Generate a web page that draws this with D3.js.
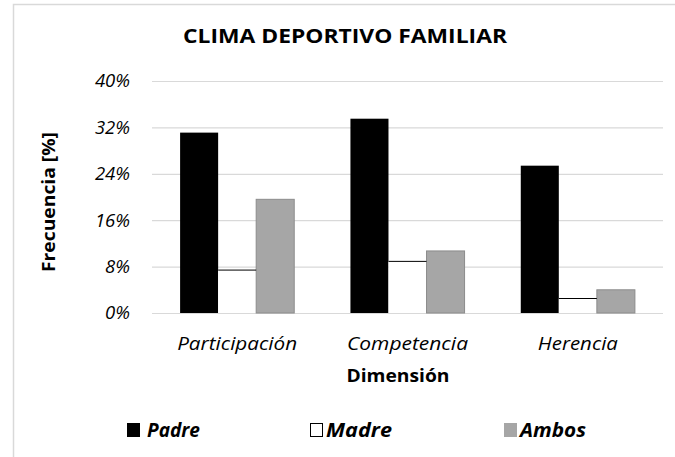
<!DOCTYPE html>
<html>
<head>
<meta charset="utf-8">
<script src="https://cdn.jsdelivr.net/npm/d3@7"></script>
<style>
  body { margin: 0; background: #fff; }
  svg { display: block; }
  text { font-family: 'Open Sans', 'Noto Sans', sans-serif; fill: #000; }
</style>
</head>
<body>
<div id="chart"></div>
<script>
const categories = ['Participación', 'Competencia', 'Herencia']
const series = ['Padre', 'Madre', 'Ambos']
const padre = [31.1, 33.5, 25.4]
const madre = [7.4, 8.9, 2.5]
const ambos = [19.6, 10.7, 4.0]
const yTicks = [0, 8, 16, 24, 32, 40]

const width = 675
const height = 457
const margin = { top: 81, left: 152, right: 12, bottom: 144 }
const innerW = width - margin.left - margin.right
const innerH = height - margin.top - margin.bottom

const fills = { Padre: '#000000', Madre: '#ffffff', Ambos: '#a6a6a6' }

// rows built from the arrays above
const rows = categories.map((c, i) => ({
  cat: c,
  values: [
    { key: 'Padre', v: padre[i] },
    { key: 'Madre', v: madre[i] },
    { key: 'Ambos', v: ambos[i] }
  ]
}))

const svg = d3
  .select('#chart')
  .append('svg')
  .attr('width', width)
  .attr('height', height)

// outer frame (only left + top show in the crop)
svg.append('path')
  .attr('d', 'M13.5,' + height + 'V4.5H' + width)
  .attr('fill', 'none')
  .attr('stroke', '#d9d9d9')
  .attr('stroke-width', 1.5)

// squeeze text to a width, Calibri is narrower than what we have
function fit(sel, w) {
  sel.attr('textLength', w).attr('lengthAdjust', 'spacingAndGlyphs')
  return sel
}

fit(svg.append('text')
  .attr('x', 345)
  .attr('y', 43)
  .attr('text-anchor', 'middle')
  .style('font-size', '20px')
  .style('font-weight', 'bold')
  .text('CLIMA DEPORTIVO FAMILIAR'), 324)

const g = svg.append('g')
  .attr('transform', 'translate(' + margin.left + ',' + margin.top + ')')

const x0 = d3.scaleBand()
  .domain(categories)
  .range([0, innerW])
  .paddingInner(0.33)
  .paddingOuter(0.165)

const x1 = d3.scaleBand()
  .domain(series)
  .range([0, x0.bandwidth()])
  .padding(0)

const y = d3.scaleLinear()
  .domain([0, 40])
  .range([innerH, 0])

// gridlines
g.append('g')
  .call(d3.axisLeft(y).tickValues(yTicks).tickSize(-innerW).tickFormat(''))
  .call(a => a.select('.domain').remove())
  .call(a => a.selectAll('line').attr('stroke', '#d9d9d9').attr('stroke-width', 1.2))

// tick labels
g.append('g')
  .attr('transform', 'translate(-22,0)')
  .call(d3.axisLeft(y).tickValues(yTicks).tickSize(0).tickPadding(0).tickFormat(d => d + '%'))
  .call(a => a.select('.domain').remove())
  .call(a => a.selectAll('text')
    .style('font-size', '18.5px')
    .style('font-style', 'italic')
    .style('font-family', "'Open Sans', sans-serif")
    .attr('fill', '#000'))

const groups = g.selectAll('.grp')
  .data(rows)
  .enter()
  .append('g')
  .attr('class', 'grp')
  .attr('transform', d => 'translate(' + x0(d.cat) + ',0)')

groups.selectAll('rect')
  .data(d => d.values)
  .enter()
  .append('rect')
  .attr('x', d => x1(d.key))
  .attr('y', d => y(d.v))
  .attr('width', x1.bandwidth())
  .attr('height', d => innerH - y(d.v))
  .attr('fill', d => fills[d.key])
  .attr('stroke', d => d.key === 'Ambos' ? '#8c8c8c' : 'none')
  .attr('stroke-width', 1)

// Madre bars only show their top edge
groups.selectAll('.top')
  .data(d => d.values.filter(v => v.key === 'Madre'))
  .enter()
  .append('line')
  .attr('class', 'top')
  .attr('x1', d => x1(d.key))
  .attr('x2', d => x1(d.key) + x1.bandwidth())
  .attr('y1', d => y(d.v))
  .attr('y2', d => y(d.v))
  .attr('stroke', '#000')
  .attr('stroke-width', 1)

// category labels
const catW = { 'Participación': 120, 'Competencia': 121, 'Herencia': 80 }
g.selectAll('.cat')
  .data(categories)
  .enter()
  .append('text')
  .attr('class', 'cat')
  .attr('x', d => x0(d) + x0.bandwidth() / 2)
  .attr('y', 350 - margin.top)
  .attr('text-anchor', 'middle')
  .style('font-size', '19px')
  .style('font-style', 'italic')
  .text(d => d)
  .each(function(d) { fit(d3.select(this), catW[d]) })

fit(svg.append('text')
  .attr('x', 398)
  .attr('y', 382)
  .attr('text-anchor', 'middle')
  .style('font-size', '18px')
  .style('font-weight', 'bold')
  .text('Dimensión'), 103)

fit(svg.append('text')
  .attr('transform', 'translate(55,202) rotate(-90)')
  .attr('text-anchor', 'middle')
  .style('font-size', '18.5px')
  .style('font-weight', 'bold')
  .text('Frecuencia [%]'), 140)

// legend
const legendX = [127, 310, 504]
const legendW = { Padre: 53, Madre: 66, Ambos: 66 }
const legend = svg.selectAll('.leg')
  .data(series)
  .enter()
  .append('g')
  .attr('class', 'leg')
  .attr('transform', (d, i) => 'translate(' + legendX[i] + ',423)')

legend.append('rect')
  .attr('x', 0.5)
  .attr('y', 0.5)
  .attr('width', 12)
  .attr('height', 13)
  .attr('fill', d => fills[d])
  .attr('stroke', d => d === 'Ambos' ? '#a6a6a6' : '#000')
  .attr('stroke-width', 1)

legend.append('text')
  .attr('x', d => d === 'Padre' ? 20 : 16)
  .attr('y', 13.5)
  .style('font-size', '19px')
  .style('font-weight', 'bold')
  .style('font-style', 'italic')
  .text(d => d)
  .each(function(d) { fit(d3.select(this), legendW[d]) })
</script>
</body>
</html>
